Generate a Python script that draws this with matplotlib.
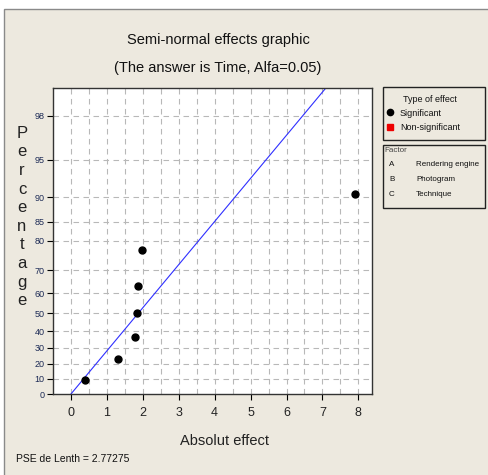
import numpy as np
import matplotlib
matplotlib.use("Agg")
import matplotlib.pyplot as plt
from matplotlib.patches import Rectangle
from statistics import NormalDist

# ---- data ----
effects = [0.38, 1.32, 1.78, 1.85, 1.88, 1.97, 7.90]
percent = [9.5, 23.0, 36.5, 50.0, 63.5, 77.0, 90.5]
pse = 2.77275
ytick_vals = [0, 10, 20, 30, 40, 50, 60, 70, 80, 85, 90, 95, 98]
xtick_vals = [0, 1, 2, 3, 4, 5, 6, 7, 8]
title_lines = ["Semi-normal effects graphic", "(The answer is Time, Alfa=0.05)"]

nd = NormalDist()
_inv_cdf = np.vectorize(lambda q: nd.inv_cdf(q), otypes=[float])
_cdf = np.vectorize(lambda z: nd.cdf(z), otypes=[float])

def fwd(p):
    p = np.asarray(p, dtype=float)
    q = np.clip(0.5 + np.nan_to_num(p, nan=0.0) / 200.0, 0.5, 0.9999999)
    return _inv_cdf(q)

def inv(z):
    z = np.asarray(z, dtype=float)
    return (_cdf(np.nan_to_num(z, nan=0.0)) - 0.5) * 200.0

W, H = 489, 475
fig = plt.figure(figsize=(W / 100, H / 100), dpi=100)
fig.patch.set_facecolor("white")
bg = "#EDE9DF"
fig.patches.append(Rectangle((4 / W, -0.01), 1.0, 1.01 - 9 / H, transform=fig.transFigure,
                             facecolor=bg, edgecolor="#8a8a8a", lw=1.0, zorder=-10))

fam = ["Liberation Sans", "DejaVu Sans"]

ax = fig.add_axes([53 / W, 1 - 394 / H, (372 - 53) / W, (394 - 88) / H])
ax.set_yscale("function", functions=(fwd, inv))
ax.set_xlim(-0.5, 8.38)
ax.set_ylim(0, 98.95)
ax.set_facecolor("white")

# grid
for xv in np.arange(0, 8.5, 0.5):
    ax.axvline(xv, color="#b8b8b8", lw=0.8, ls=(0, (5, 4)), zorder=0)
for yv in ytick_vals[1:]:
    ax.axhline(yv, color="#b8b8b8", lw=0.8, ls=(0, (5, 4)), zorder=0)

# reference line through origin: x = PSE * z
p_line = np.array([0.0, 99.9])
ax.plot(pse * fwd(p_line), p_line, color="#2f2fff", lw=0.8, zorder=2)

ax.plot(effects, percent, "o", color="black", ms=5, zorder=3)

ax.set_yticks(ytick_vals)
ax.set_yticklabels([str(v) for v in ytick_vals], family=fam, fontsize=6.5, color="#1c2a55")
ax.set_xticks(xtick_vals)
ax.set_xticklabels([str(v) for v in xtick_vals], family=fam, fontsize=9, color="#222222")
ax.yaxis.set_minor_locator(matplotlib.ticker.NullLocator())
ax.tick_params(axis="y", length=4, width=0.8, pad=2)
ax.tick_params(axis="x", length=4, width=0.8, pad=5)
for s in ax.spines.values():
    s.set_color("#333333")
    s.set_linewidth(1.0)

# titles
fig.text(218 / W, 1 - 40 / H, title_lines[0], ha="center", va="center",
         family=fam, fontsize=10.5, color="#111111")
fig.text(218 / W, 1 - 68 / H, title_lines[1], ha="center", va="center",
         family=fam, fontsize=10.5, color="#111111")

# vertical y label
fig.text(22 / W, 1 - 217 / H, "\n".join("Percentage"), ha="center", va="center",
         family=fam, fontsize=12, color="#222222", linespacing=1.30)

fig.text(225 / W, 1 - 441 / H, "Absolut effect", ha="center", va="center",
         family=fam, fontsize=10.5, color="#222222")
fig.text(16 / W, 1 - 459 / H, "PSE de Lenth = 2.77275", ha="left", va="center",
         family=fam, fontsize=7.5, color="#111111")

# legend boxes
fig.patches.append(Rectangle((383 / W, 1 - 140 / H), 102 / W, 53 / H, transform=fig.transFigure,
                             facecolor=bg, edgecolor="#222222", lw=1.0))
fig.patches.append(Rectangle((383 / W, 1 - 208 / H), 102 / W, 63 / H, transform=fig.transFigure,
                             facecolor=bg, edgecolor="#222222", lw=1.0))
fig.text(430 / W, 1 - 99 / H, "Type of effect", ha="center", va="center",
         family=fam, fontsize=6.5, color="#111111")
fig.add_artist(plt.Line2D([390 / W], [1 - 112 / H], marker="o", color="black", ms=4.5,
                          transform=fig.transFigure))
fig.text(400 / W, 1 - 114 / H, "Significant", ha="left", va="center",
         family=fam, fontsize=6.5, color="#111111")
fig.add_artist(plt.Line2D([390 / W], [1 - 127 / H], marker="s", color="#ee0000", ms=4.5,
                          transform=fig.transFigure))
fig.text(400 / W, 1 - 128 / H, "Non-significant", ha="left", va="center",
         family=fam, fontsize=6.5, color="#111111")

fig.text(384 / W, 1 - 151 / H, "Factor", ha="left", va="center",
         family=fam, fontsize=5.8, color="#444444")
factors = [("A", "Rendering engine"), ("B", "Photogram"), ("C", "Technique")]
for i, (k, name) in enumerate(factors):
    yy = 1 - (165 + 14.5 * i) / H
    fig.text(389 / W, yy, k, ha="left", va="center", family=fam, fontsize=5.8, color="#111111")
    fig.text(416 / W, yy, name, ha="left", va="center", family=fam, fontsize=5.8, color="#111111")

fig.savefig("out.png", dpi=100, facecolor=fig.get_facecolor())
